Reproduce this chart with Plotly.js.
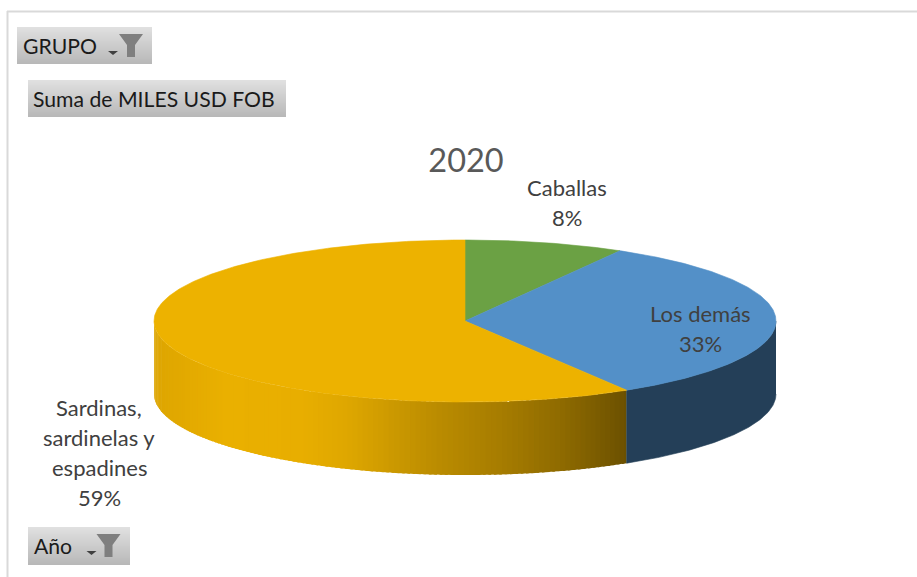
<!DOCTYPE html>
<html><head><meta charset="utf-8">
<script src="https://cdn.plot.ly/plotly-3.0.1.min.js"></script>
<style>html,body{margin:0;padding:0;background:#fff}</style></head>
<body><div id="chart" style="width:917px;height:577px"></div>
<script>
const categories = ["Caballas", "Los demás", "Sardinas, sardinelas y espadines"];
const values = [8.3, 33.0, 58.7];
const topColors = ["#6BA144", "#5390C8", "#EDB200"];
const wallColors = ["#3A5F28", "#243F58", null];
const chartTitle = "2020";
const buttons = [
  {text:"GRUPO", x0:17, x1:152, y0:27, y1:64, tx:21, filter:true, fx:131, ax:113},
  {text:"Suma de MILES USD FOB", x0:28, x1:286, y0:80, y1:117, tx:31},
  {text:"Año", x0:28, x1:130, y0:527, y1:565, tx:32, filter:true, fx:108.5, ax:91.5}
];
const labelLines = [
  {cat:0, x:567, ys:[187,217], lines:["Caballas"]},
  {cat:1, x:700, ys:[313,343], lines:["Los demás"]},
  {cat:2, x:99, ys:[407,437,467,497], lines:["Sardinas,","sardinelas y","espadines"]}
];
// gradient of the front wall of the large slice: [pixel x, r, g, b]
const wallRamp = [[154,221,165,0],[225,234,176,0],[300,232,174,0],[345,222,167,0],[390,204,153,0],[430,188,141,0],[500,166,124,0],[560,142,106,0],[627,106,79,0]];

const cx=465, cy=321, rx=311, ry=81, depth=73;
const total = values.reduce((a,b)=>a+b,0);
const pt = (deg,dy=0)=>{const r=deg*Math.PI/180;return [cx+rx*Math.sin(r), cy-ry*Math.cos(r)+dy];};
function rampColor(x){
  for(let i=1;i<wallRamp.length;i++){
    if(x<=wallRamp[i][0]){
      const a=wallRamp[i-1],b=wallRamp[i],t=Math.max(0,(x-a[0])/(b[0]-a[0]));
      return `rgb(${[1,2,3].map(k=>Math.round(a[k]+(b[k]-a[k])*t)).join(",")})`;
    }
  }
  const l=wallRamp[wallRamp.length-1];return `rgb(${l[1]},${l[2]},${l[3]})`;
}
const traces=[];
function poly(pts,color,name,noLine){
  traces.push({type:"scatter",mode:"lines",x:pts.map(p=>p[0]),y:pts.map(p=>p[1]),fill:"toself",
    fillcolor:color,line:{color:color,width:noLine?0:0.6},hoverinfo:"skip",showlegend:false,name:name||""});
}
let acc=0;
const spans=values.map(v=>{const s=[acc/total*360,(acc+v)/total*360];acc+=v;return s;});
// walls (only the near half of the pie shows a wall); gradient wall first so the flat one covers the seam
[2,1,0].forEach(i=>{
  const s=spans[i];
  const a0=Math.max(s[0],90),a1=Math.min(s[1],270);
  if(a1<=a0)return;
  const step=0.5;
  if(wallColors[i]){
    const pts=[];
    for(let a=a0;a<=a1;a+=step)pts.push(pt(a));
    pts.push(pt(a1));pts.push(pt(a1,depth));
    for(let a=a1;a>=a0;a-=step)pts.push(pt(a,depth));
    pts.push(pt(a0,depth));
    poly(pts,wallColors[i],categories[i]+" wall");
  }else{
    // strips run from right to left; each overlaps the one before it so no seams show
    for(let a=a0;a<a1;a+=1){
      const b=Math.min(a+1,a1), p=Math.max(a-0.5,a0);
      poly([pt(p),pt(a),pt(b),pt(b,depth),pt(a,depth),pt(p,depth)],rampColor(pt((a+b)/2)[0]),categories[i]+" wall",true);
    }
  }
});
// top faces
spans.forEach((s,i)=>{
  const pts=[[cx,cy]];
  for(let a=s[0];a<s[1];a+=0.5)pts.push(pt(a));
  pts.push(pt(s[1]));pts.push([cx,cy]);
  poly(pts,topColors[i],categories[i]);
});

const shapes=[
 {type:"line",x0:7,x1:917,y0:11.5,y1:11.5,line:{color:"#d9d9d9",width:2}},
 {type:"line",x0:7.5,x1:7.5,y0:11,y1:577,line:{color:"#d9d9d9",width:2}}
];
const annotations=[];
const font={family:"Lato, 'Open Sans', sans-serif",size:22,color:"#404040"};
buttons.forEach(b=>{
  const n=b.y1-b.y0;
  for(let i=0;i<n;i++){
    const t=i/(n-1),v=Math.round(224-(224-184)*t);
    shapes.push({type:"rect",x0:b.x0,x1:b.x1,y0:b.y0+i,y1:b.y0+i+1,line:{width:0},fillcolor:`rgb(${v},${v},${v})`});
  }
  annotations.push({x:b.tx,y:(b.y0+b.y1)/2,text:b.text,showarrow:false,xanchor:"left",yanchor:"middle",
    font:{family:"Lato, sans-serif",size:21.2,color:"#1a1a1a"}});
  if(b.filter){
    const f=b.fx,t=b.y0+7,m=b.y0+18,e=b.y0+30;
    shapes.push({type:"path",path:`M${f-12} ${t}L${f+12} ${t}L${f+4} ${m}L${f+4} ${e}L${f-4} ${e}L${f-4} ${m}Z`,fillcolor:"#7f7f7f",line:{width:0}});
    const ay=b.y0+24;
    shapes.push({type:"path",path:`M${b.ax-5} ${ay}L${b.ax+5} ${ay}L${b.ax} ${ay+4}Z`,fillcolor:"#404040",line:{width:0}});
  }
});
labelLines.forEach(l=>{
  const pct=Math.round(values[l.cat]/total*100)+"%";
  [...l.lines,pct].forEach((txt,i)=>annotations.push({x:l.x,y:l.ys[i],text:txt,showarrow:false,xanchor:"center",yanchor:"middle",font}));
});
Plotly.newPlot("chart",traces,{
  width:917,height:577,margin:{l:0,r:0,t:0,b:0},paper_bgcolor:"#fff",plot_bgcolor:"#fff",showlegend:false,
  title:{text:chartTitle,x:466/917,y:1-161/577,xanchor:"center",yanchor:"middle",font:{family:"Lato, sans-serif",size:32.5,color:"#595959"}},
  xaxis:{range:[0,917],visible:false,fixedrange:true},
  yaxis:{range:[577,0],visible:false,fixedrange:true},
  shapes,annotations
},{displayModeBar:false,staticPlot:true});
</script></body></html>
